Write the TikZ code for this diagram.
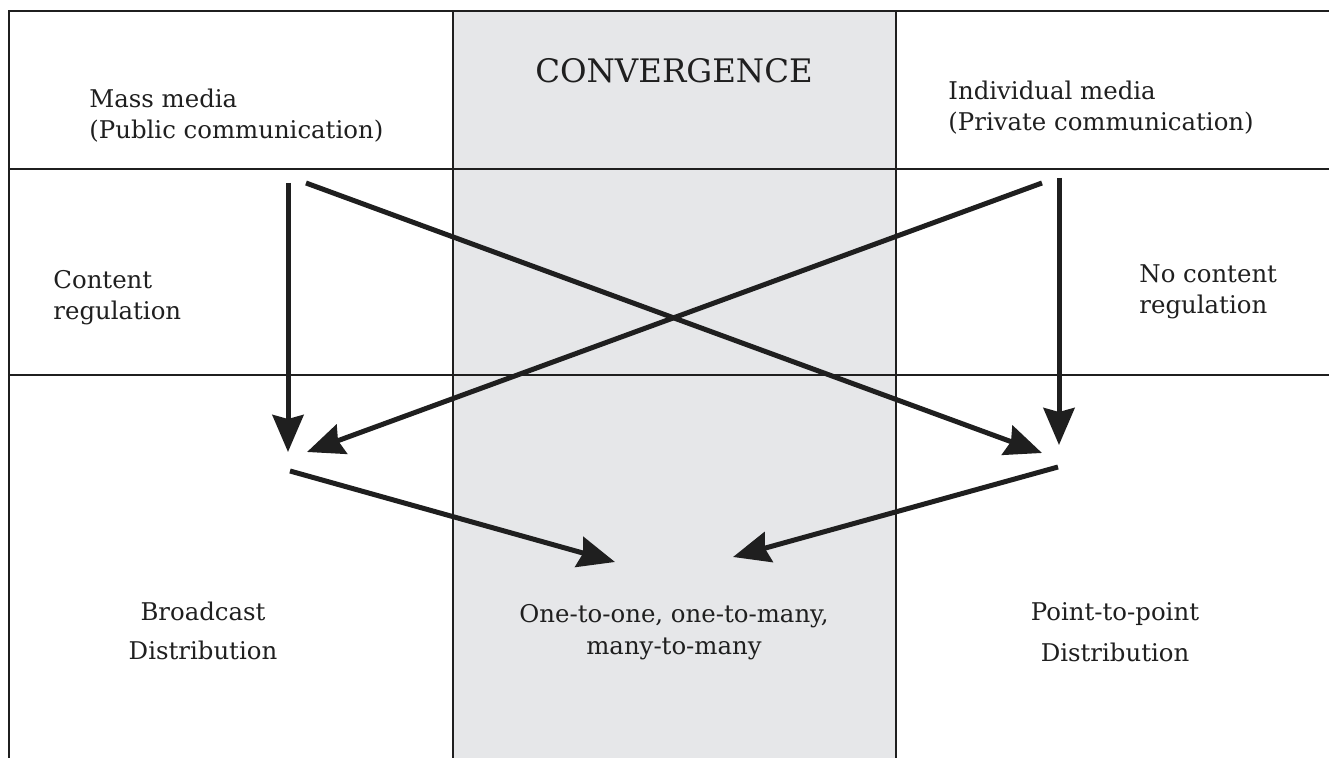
\documentclass[tikz,border=0pt]{standalone}
\usepackage{fontspec}
\setmainfont{DejaVu Serif}
\usepackage{xcolor}
\usetikzlibrary{arrows.meta,positioning}
\definecolor{convGray}{RGB}{230,231,233}
\colorlet{inkA}{black!88}

\begin{document}
\begin{tikzpicture}[x=0.5pt,y=-0.5pt,
    frame/.style={draw=inkA, line width=0.8pt},
    flow/.style={draw=inkA, line width=2.5pt, -{Stealth[length=18.5pt,width=15.5pt,inset=2pt]}},
    lbl/.style={text=inkA, inner sep=0pt, font=\fontsize{12.2}{15.5}\selectfont},
    lblwide/.style={lbl, align=center, font=\fontsize{12.2}{19.5}\selectfont}]
      \useasboundingbox (0,0) rectangle (1329,758);

      % --- convergence band ---
      \fill[convGray] (453,11) rectangle (896,758);

      % --- table rules ---
      \draw[frame] (1329,11) -- (9,11) -- (9,758);
      \draw[frame] (9,169) -- (1329,169);
      \draw[frame] (9,375) -- (1329,375);
      \draw[frame] (453,11) -- (453,758);
      \draw[frame] (896,11) -- (896,758);

      % --- headers ---
      \node[lbl, anchor=west, align=left] (mass) at (89,116) {Mass media\\(Public communication)};
      \node[lbl, font=\fontsize{16.2}{20}\selectfont] (conv) at (674,71) {CONVERGENCE};
      \node[lbl, anchor=west, align=left] (indiv) at (948,108) {Individual media\\(Private communication)};

      % --- regulation ---
      \node[lbl, anchor=west, align=left] (reg) at (53,298) {Content\\regulation};
      \node[lbl, anchor=west, align=left] (noreg) at (1139,292) {No content\\regulation};

      % --- distribution ---
      \node[lblwide] (bcast) at (203,631) {Broadcast\\Distribution};
      \node[lbl, align=center, font=\fontsize{12.2}{16}\selectfont] (many) at (674,632) {One-to-one, one-to-many,\\many-to-many};
      \node[lblwide, font=\fontsize{12.2}{20.5}\selectfont] (ptp) at (1115,632) {Point-to-point\\Distribution};

      % arrow ends
      \coordinate (mL) at (288,183);
      \coordinate (mX) at (306,183);
      \coordinate (iX) at (1042,183);
      \coordinate (iR) at (1059,178);
      \coordinate (bIn) at (288,452);
      \coordinate (bInX) at (307,452);
      \coordinate (pIn) at (1059,445);
      \coordinate (pInX) at (1042,453);
      \coordinate (bOut) at (290,471);
      \coordinate (pOut) at (1058,467);
      \coordinate (cInL) at (615,562);
      \coordinate (cInR) at (733,557);

      % flows
      \draw[flow] (mL) -- (bIn);
      \draw[flow] (mX) -- (pInX);
      \draw[flow] (iR) -- (pIn);
      \draw[flow] (iX) -- (bInX);
      \draw[flow] (bOut) -- (cInL);
      \draw[flow] (pOut) -- (cInR);
    \end{tikzpicture}
\end{document}
